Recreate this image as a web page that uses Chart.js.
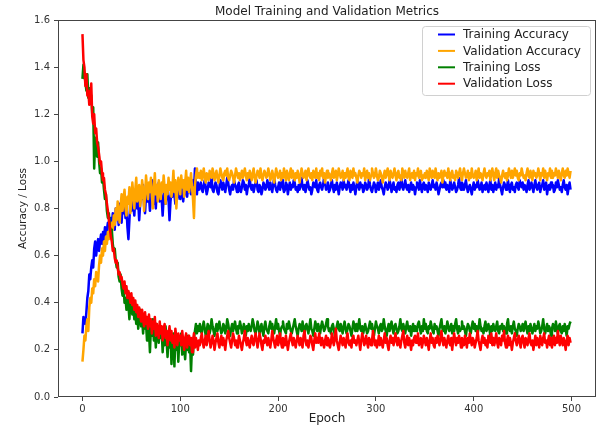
<!DOCTYPE html>
<html>
<head>
<meta charset="utf-8">
<script src="https://cdn.jsdelivr.net/npm/chart.js@4.4.1/dist/chart.umd.min.js"></script>
<style>
  html, body { margin: 0; padding: 0; background: #fff; }
  canvas { display: block; }
</style>
</head>
<body>
<canvas id="chart" width="599" height="429"></canvas>
<script>
// values, one per epoch (0..499), ten per row
const trainAcc = [
  0.27, 0.34, 0.33, 0.31, 0.36, 0.42, 0.45, 0.52, 0.50, 0.55,
  0.58, 0.55, 0.63, 0.66, 0.60, 0.64, 0.67, 0.62, 0.66, 0.69,
  0.65, 0.70, 0.67, 0.72, 0.69, 0.71, 0.74, 0.70, 0.73, 0.76,
  0.72, 0.78, 0.74, 0.71, 0.80, 0.76, 0.79, 0.73, 0.82, 0.77,
  0.74, 0.81, 0.78, 0.84, 0.76, 0.80, 0.72, 0.67, 0.75, 0.83,
  0.79, 0.86, 0.81, 0.77, 0.84, 0.88, 0.80, 0.83, 0.75, 0.82,
  0.87, 0.84, 0.90, 0.81, 0.78, 0.86, 0.83, 0.89, 0.85, 0.79,
  0.84, 0.92, 0.87, 0.82, 0.86, 0.80, 0.88, 0.85, 0.91, 0.83,
  0.87, 0.84, 0.77, 0.85, 0.89, 0.82, 0.86, 0.90, 0.84, 0.75,
  0.83, 0.87, 0.85, 0.91, 0.86, 0.82, 0.88, 0.84, 0.90, 0.86,
  0.84, 0.89, 0.87, 0.83, 0.88, 0.91, 0.86, 0.85, 0.89, 0.87,
  0.90, 0.86, 0.88, 0.92, 0.87, 0.97, 0.89, 0.86, 0.91, 0.88,
  0.89, 0.91, 0.88, 0.87, 0.90, 0.92, 0.89, 0.86, 0.88, 0.91,
  0.90, 0.89, 0.93, 0.88, 0.87, 0.89, 0.91, 0.90, 0.87, 0.86,
  0.89, 0.92, 0.90, 0.88, 0.91, 0.89, 0.87, 0.90, 0.93, 0.91,
  0.88, 0.86, 0.89, 0.90, 0.88, 0.92, 0.90, 0.89, 0.87, 0.90,
  0.91, 0.88, 0.87, 0.89, 0.92, 0.91, 0.88, 0.90, 0.86, 0.89,
  0.90, 0.93, 0.89, 0.88, 0.90, 0.87, 0.89, 0.91, 0.92, 0.88,
  0.87, 0.90, 0.89, 0.86, 0.88, 0.91, 0.90, 0.88, 0.89, 0.92,
  0.90, 0.88, 0.91, 0.89, 0.87, 0.90, 0.93, 0.90, 0.88, 0.87,
  0.89, 0.91, 0.88, 0.90, 0.92, 0.89, 0.87, 0.88, 0.91, 0.90,
  0.86, 0.89, 0.91, 0.88, 0.90, 0.89, 0.92, 0.91, 0.88, 0.89,
  0.87, 0.90, 0.88, 0.91, 0.93, 0.89, 0.88, 0.90, 0.87, 0.89,
  0.92, 0.90, 0.88, 0.89, 0.86, 0.88, 0.91, 0.90, 0.89, 0.92,
  0.88, 0.87, 0.90, 0.91, 0.89, 0.88, 0.90, 0.93, 0.91, 0.88,
  0.89, 0.91, 0.87, 0.88, 0.90, 0.92, 0.89, 0.87, 0.90, 0.88,
  0.91, 0.89, 0.86, 0.89, 0.91, 0.90, 0.88, 0.92, 0.89, 0.90,
  0.88, 0.90, 0.92, 0.89, 0.87, 0.90, 0.88, 0.91, 0.89, 0.86,
  0.89, 0.92, 0.90, 0.88, 0.91, 0.89, 0.90, 0.87, 0.88, 0.91,
  0.90, 0.88, 0.89, 0.93, 0.90, 0.88, 0.87, 0.89, 0.91, 0.90,
  0.87, 0.89, 0.91, 0.88, 0.90, 0.92, 0.89, 0.88, 0.86, 0.89,
  0.91, 0.90, 0.88, 0.89, 0.92, 0.90, 0.87, 0.89, 0.91, 0.88,
  0.89, 0.87, 0.90, 0.91, 0.88, 0.90, 0.93, 0.89, 0.88, 0.90,
  0.92, 0.89, 0.88, 0.90, 0.87, 0.89, 0.91, 0.88, 0.90, 0.89,
  0.86, 0.89, 0.91, 0.90, 0.88, 0.92, 0.89, 0.87, 0.90, 0.91,
  0.88, 0.90, 0.89, 0.87, 0.91, 0.89, 0.88, 0.90, 0.92, 0.89,
  0.90, 0.88, 0.91, 0.89, 0.86, 0.88, 0.90, 0.91, 0.89, 0.92,
  0.89, 0.91, 0.88, 0.90, 0.89, 0.87, 0.92, 0.90, 0.88, 0.89,
  0.91, 0.89, 0.87, 0.88, 0.90, 0.93, 0.89, 0.88, 0.91, 0.90,
  0.88, 0.90, 0.92, 0.89, 0.87, 0.89, 0.90, 0.88, 0.86, 0.89,
  0.91, 0.88, 0.90, 0.89, 0.92, 0.90, 0.88, 0.89, 0.91, 0.87,
  0.89, 0.90, 0.88, 0.91, 0.89, 0.87, 0.90, 0.92, 0.88, 0.90,
  0.87, 0.89, 0.91, 0.88, 0.90, 0.89, 0.93, 0.90, 0.88, 0.86,
  0.89, 0.91, 0.90, 0.88, 0.89, 0.92, 0.89, 0.87, 0.90, 0.91,
  0.88, 0.89, 0.87, 0.90, 0.91, 0.89, 0.88, 0.92, 0.90, 0.89,
  0.91, 0.88, 0.90, 0.89, 0.87, 0.90, 0.92, 0.88, 0.89, 0.91,
  0.89, 0.87, 0.90, 0.92, 0.89, 0.88, 0.90, 0.91, 0.87, 0.89,
  0.90, 0.92, 0.88, 0.89, 0.91, 0.86, 0.89, 0.90, 0.88, 0.91,
  0.89, 0.90, 0.87, 0.88, 0.91, 0.89, 0.92, 0.90, 0.88, 0.89,
  0.87, 0.90, 0.92, 0.89, 0.88, 0.90, 0.86, 0.89, 0.91, 0.88
];

const valAcc = [
  0.15, 0.20, 0.26, 0.24, 0.30, 0.33, 0.28, 0.38, 0.42, 0.40,
  0.46, 0.44, 0.50, 0.47, 0.53, 0.51, 0.49, 0.56, 0.60, 0.57,
  0.63, 0.60, 0.66, 0.62, 0.68, 0.65, 0.70, 0.67, 0.72, 0.69,
  0.74, 0.71, 0.77, 0.73, 0.80, 0.75, 0.83, 0.78, 0.74, 0.81,
  0.86, 0.79, 0.84, 0.88, 0.80, 0.77, 0.85, 0.82, 0.89, 0.78,
  0.84, 0.91, 0.86, 0.80, 0.88, 0.93, 0.83, 0.87, 0.90, 0.81,
  0.85, 0.92, 0.88, 0.79, 0.86, 0.94, 0.89, 0.84, 0.91, 0.87,
  0.93, 0.85, 0.80, 0.89, 0.95, 0.86, 0.90, 0.83, 0.92, 0.88,
  0.84, 0.91, 0.87, 0.94, 0.89, 0.82, 0.90, 0.86, 0.93, 0.88,
  0.91, 0.85, 0.89, 0.96, 0.87, 0.92, 0.80, 0.88, 0.93, 0.90,
  0.86, 0.94, 0.89, 0.92, 0.85, 0.91, 0.96, 0.88, 0.93, 0.87,
  0.91, 0.95, 0.89, 0.84, 0.76, 0.90, 0.94, 0.97, 0.93, 0.95,
  0.93, 0.96, 0.92, 0.94, 0.97, 0.93, 0.91, 0.95, 0.94, 0.92,
  0.96, 0.94, 0.93, 0.97, 0.95, 0.92, 0.94, 0.96, 0.93, 0.91,
  0.94, 0.97, 0.95, 0.93, 0.92, 0.95, 0.96, 0.94, 0.97, 0.93,
  0.92, 0.94, 0.96, 0.95, 0.93, 0.91, 0.94, 0.97, 0.95, 0.93,
  0.95, 0.92, 0.94, 0.96, 0.93, 0.95, 0.97, 0.94, 0.92, 0.95,
  0.93, 0.96, 0.94, 0.92, 0.95, 0.97, 0.93, 0.91, 0.94, 0.96,
  0.95, 0.93, 0.97, 0.94, 0.92, 0.94, 0.96, 0.95, 0.93, 0.94,
  0.97, 0.95, 0.92, 0.93, 0.96, 0.94, 0.91, 0.94, 0.97, 0.95,
  0.93, 0.94, 0.96, 0.92, 0.95, 0.93, 0.97, 0.94, 0.92, 0.96,
  0.94, 0.92, 0.95, 0.97, 0.93, 0.96, 0.94, 0.92, 0.95, 0.93,
  0.96, 0.94, 0.91, 0.94, 0.97, 0.95, 0.93, 0.94, 0.96, 0.92,
  0.95, 0.97, 0.94, 0.93, 0.95, 0.92, 0.96, 0.94, 0.93, 0.97,
  0.93, 0.95, 0.92, 0.96, 0.94, 0.97, 0.93, 0.95, 0.91, 0.94,
  0.96, 0.93, 0.95, 0.94, 0.92, 0.95, 0.97, 0.93, 0.94, 0.96,
  0.92, 0.94, 0.97, 0.95, 0.93, 0.94, 0.96, 0.92, 0.95, 0.93,
  0.95, 0.97, 0.93, 0.92, 0.96, 0.94, 0.93, 0.97, 0.94, 0.95,
  0.93, 0.91, 0.94, 0.96, 0.95, 0.93, 0.95, 0.94, 0.97, 0.92,
  0.94, 0.96, 0.93, 0.95, 0.92, 0.94, 0.97, 0.95, 0.93, 0.94,
  0.97, 0.94, 0.92, 0.93, 0.96, 0.95, 0.93, 0.91, 0.94, 0.96,
  0.93, 0.95, 0.97, 0.94, 0.92, 0.96, 0.94, 0.93, 0.95, 0.97,
  0.94, 0.92, 0.95, 0.96, 0.93, 0.94, 0.92, 0.97, 0.95, 0.93,
  0.96, 0.94, 0.93, 0.95, 0.97, 0.92, 0.94, 0.95, 0.93, 0.96,
  0.92, 0.95, 0.94, 0.97, 0.93, 0.95, 0.96, 0.92, 0.94, 0.93,
  0.95, 0.93, 0.96, 0.94, 0.92, 0.97, 0.95, 0.93, 0.96, 0.94,
  0.93, 0.97, 0.94, 0.92, 0.95, 0.93, 0.94, 0.96, 0.91, 0.94,
  0.96, 0.94, 0.95, 0.93, 0.97, 0.94, 0.92, 0.95, 0.96, 0.93,
  0.94, 0.92, 0.96, 0.95, 0.93, 0.95, 0.97, 0.94, 0.92, 0.95,
  0.97, 0.95, 0.93, 0.94, 0.96, 0.92, 0.95, 0.93, 0.97, 0.94,
  0.93, 0.94, 0.96, 0.92, 0.94, 0.97, 0.93, 0.95, 0.94, 0.92,
  0.95, 0.97, 0.94, 0.93, 0.95, 0.94, 0.96, 0.92, 0.95, 0.97,
  0.94, 0.92, 0.95, 0.97, 0.93, 0.96, 0.94, 0.93, 0.91, 0.94,
  0.96, 0.94, 0.93, 0.95, 0.92, 0.94, 0.97, 0.95, 0.93, 0.96,
  0.93, 0.95, 0.97, 0.94, 0.96, 0.93, 0.92, 0.95, 0.94, 0.97,
  0.95, 0.93, 0.94, 0.92, 0.95, 0.97, 0.94, 0.93, 0.96, 0.94,
  0.92, 0.96, 0.94, 0.95, 0.93, 0.94, 0.97, 0.95, 0.92, 0.95,
  0.94, 0.97, 0.93, 0.96, 0.94, 0.92, 0.95, 0.94, 0.97, 0.93,
  0.96, 0.93, 0.95, 0.94, 0.97, 0.95, 0.93, 0.96, 0.94, 0.92,
  0.95, 0.97, 0.94, 0.93, 0.96, 0.94, 0.97, 0.95, 0.93, 0.96
];

const trainLoss = [
  1.35, 1.41, 1.36, 1.34, 1.30, 1.37, 1.27, 1.31, 1.25, 1.28,
  1.20, 1.23, 0.97, 1.10, 1.05, 1.02, 1.08, 1.00, 0.95, 0.97,
  0.91, 0.93, 0.88, 0.84, 0.86, 0.79, 0.76, 0.78, 0.72, 0.70,
  0.71, 0.65, 0.62, 0.63, 0.58, 0.55, 0.57, 0.51, 0.49, 0.52,
  0.46, 0.43, 0.47, 0.40, 0.42, 0.37, 0.45, 0.39, 0.33, 0.41,
  0.38, 0.35, 0.40, 0.33, 0.36, 0.31, 0.38, 0.29, 0.34, 0.37,
  0.30, 0.33, 0.27, 0.35, 0.29, 0.31, 0.24, 0.32, 0.28, 0.19,
  0.30, 0.26, 0.33, 0.24, 0.29, 0.21, 0.31, 0.27, 0.23, 0.30,
  0.25, 0.28, 0.19, 0.27, 0.22, 0.30, 0.24, 0.17, 0.26, 0.21,
  0.28, 0.14, 0.23, 0.27, 0.13, 0.25, 0.20, 0.26, 0.15, 0.24,
  0.22, 0.27, 0.18, 0.25, 0.21, 0.16, 0.24, 0.20, 0.26, 0.19,
  0.23, 0.11, 0.22, 0.18, 0.25, 0.28, 0.31, 0.27, 0.30, 0.28,
  0.31, 0.28, 0.27, 0.30, 0.32, 0.29, 0.26, 0.28, 0.31, 0.30,
  0.27, 0.29, 0.33, 0.30, 0.28, 0.26, 0.29, 0.31, 0.28, 0.30,
  0.32, 0.29, 0.27, 0.28, 0.31, 0.30, 0.27, 0.29, 0.33, 0.31,
  0.28, 0.26, 0.29, 0.31, 0.28, 0.30, 0.32, 0.29, 0.27, 0.30,
  0.29, 0.32, 0.30, 0.27, 0.28, 0.31, 0.29, 0.26, 0.30, 0.28,
  0.31, 0.29, 0.28, 0.30, 0.33, 0.31, 0.28, 0.27, 0.29, 0.32,
  0.30, 0.27, 0.29, 0.31, 0.28, 0.26, 0.30, 0.32, 0.29, 0.28,
  0.27, 0.30, 0.32, 0.29, 0.31, 0.28, 0.27, 0.30, 0.33, 0.29,
  0.31, 0.28, 0.26, 0.29, 0.30, 0.32, 0.29, 0.28, 0.27, 0.31,
  0.29, 0.32, 0.30, 0.28, 0.27, 0.29, 0.31, 0.33, 0.30, 0.28,
  0.26, 0.29, 0.31, 0.30, 0.28, 0.32, 0.29, 0.27, 0.30, 0.31,
  0.29, 0.27, 0.30, 0.33, 0.29, 0.28, 0.26, 0.29, 0.32, 0.30,
  0.28, 0.31, 0.29, 0.27, 0.30, 0.32, 0.30, 0.28, 0.29, 0.31,
  0.33, 0.30, 0.28, 0.29, 0.27, 0.30, 0.31, 0.29, 0.26, 0.28,
  0.30, 0.32, 0.29, 0.28, 0.31, 0.29, 0.27, 0.30, 0.32, 0.29,
  0.27, 0.29, 0.31, 0.30, 0.28, 0.26, 0.29, 0.32, 0.30, 0.28,
  0.31, 0.28, 0.30, 0.33, 0.29, 0.28, 0.30, 0.27, 0.29, 0.31,
  0.29, 0.27, 0.28, 0.30, 0.32, 0.29, 0.31, 0.28, 0.26, 0.29,
  0.32, 0.30, 0.29, 0.27, 0.30, 0.31, 0.28, 0.29, 0.33, 0.30,
  0.28, 0.26, 0.29, 0.31, 0.28, 0.30, 0.32, 0.29, 0.27, 0.30,
  0.31, 0.29, 0.27, 0.28, 0.30, 0.33, 0.29, 0.28, 0.31, 0.29,
  0.27, 0.30, 0.32, 0.29, 0.28, 0.30, 0.26, 0.29, 0.31, 0.28,
  0.30, 0.28, 0.29, 0.31, 0.32, 0.29, 0.27, 0.30, 0.28, 0.33,
  0.29, 0.31, 0.28, 0.27, 0.30, 0.29, 0.32, 0.30, 0.28, 0.27,
  0.31, 0.29, 0.30, 0.28, 0.26, 0.29, 0.31, 0.33, 0.29, 0.28,
  0.30, 0.27, 0.29, 0.32, 0.30, 0.28, 0.29, 0.31, 0.27, 0.30,
  0.28, 0.31, 0.33, 0.29, 0.27, 0.30, 0.28, 0.29, 0.32, 0.29,
  0.30, 0.28, 0.26, 0.29, 0.31, 0.30, 0.28, 0.27, 0.30, 0.32,
  0.29, 0.31, 0.28, 0.30, 0.27, 0.29, 0.33, 0.30, 0.28, 0.29,
  0.27, 0.30, 0.32, 0.28, 0.29, 0.31, 0.29, 0.26, 0.30, 0.28,
  0.31, 0.29, 0.28, 0.30, 0.32, 0.28, 0.27, 0.30, 0.29, 0.31,
  0.28, 0.30, 0.29, 0.27, 0.31, 0.33, 0.29, 0.28, 0.30, 0.27,
  0.30, 0.32, 0.29, 0.28, 0.26, 0.29, 0.31, 0.30, 0.28, 0.29,
  0.31, 0.28, 0.30, 0.32, 0.29, 0.27, 0.30, 0.28, 0.31, 0.29,
  0.27, 0.29, 0.31, 0.28, 0.30, 0.29, 0.32, 0.30, 0.27, 0.28,
  0.30, 0.33, 0.29, 0.27, 0.29, 0.31, 0.28, 0.30, 0.29, 0.26,
  0.29, 0.31, 0.30, 0.28, 0.32, 0.29, 0.27, 0.30, 0.31, 0.28,
  0.27, 0.30, 0.28, 0.31, 0.29, 0.26, 0.30, 0.29, 0.31, 0.32
];

const valLoss = [
  1.54, 1.43, 1.40, 1.32, 1.37, 1.28, 1.30, 1.24, 1.27, 1.33,
  1.19, 1.16, 1.20, 1.12, 1.14, 1.08, 1.06, 1.03, 0.99, 1.00,
  0.95, 0.92, 0.93, 0.88, 0.86, 0.82, 0.79, 0.75, 0.72, 0.68,
  0.66, 0.62, 0.63, 0.59, 0.57, 0.58, 0.55, 0.52, 0.53, 0.50,
  0.51, 0.48, 0.46, 0.49, 0.44, 0.47, 0.42, 0.45, 0.43, 0.40,
  0.44, 0.39, 0.42, 0.37, 0.41, 0.36, 0.39, 0.34, 0.38, 0.35,
  0.32, 0.37, 0.33, 0.30, 0.36, 0.31, 0.34, 0.29, 0.35, 0.30,
  0.33, 0.27, 0.32, 0.29, 0.34, 0.26, 0.31, 0.28, 0.25, 0.32,
  0.27, 0.30, 0.24, 0.29, 0.31, 0.25, 0.28, 0.22, 0.27, 0.30,
  0.24, 0.28, 0.23, 0.26, 0.21, 0.29, 0.25, 0.22, 0.27, 0.24,
  0.26, 0.22, 0.28, 0.24, 0.20, 0.25, 0.27, 0.21, 0.24, 0.26,
  0.22, 0.25, 0.19, 0.24, 0.27, 0.21, 0.25, 0.23, 0.20, 0.24,
  0.22, 0.25, 0.27, 0.23, 0.21, 0.24, 0.26, 0.22, 0.25, 0.28,
  0.24, 0.21, 0.23, 0.26, 0.24, 0.20, 0.23, 0.25, 0.27, 0.23,
  0.21, 0.24, 0.26, 0.22, 0.25, 0.23, 0.20, 0.24, 0.26, 0.28,
  0.25, 0.23, 0.21, 0.24, 0.27, 0.25, 0.22, 0.24, 0.21, 0.23,
  0.26, 0.24, 0.22, 0.20, 0.23, 0.25, 0.28, 0.24, 0.22, 0.25,
  0.23, 0.21, 0.24, 0.26, 0.23, 0.22, 0.25, 0.27, 0.24, 0.21,
  0.24, 0.27, 0.25, 0.22, 0.20, 0.24, 0.23, 0.26, 0.24, 0.22,
  0.25, 0.23, 0.21, 0.24, 0.28, 0.25, 0.23, 0.21, 0.24, 0.26,
  0.22, 0.24, 0.27, 0.23, 0.21, 0.25, 0.24, 0.22, 0.26, 0.23,
  0.20, 0.23, 0.25, 0.27, 0.24, 0.22, 0.25, 0.23, 0.21, 0.24,
  0.26, 0.24, 0.22, 0.25, 0.23, 0.21, 0.26, 0.28, 0.24, 0.22,
  0.24, 0.21, 0.23, 0.26, 0.25, 0.22, 0.20, 0.24, 0.27, 0.23,
  0.25, 0.23, 0.27, 0.24, 0.22, 0.25, 0.23, 0.21, 0.24, 0.26,
  0.22, 0.25, 0.24, 0.21, 0.23, 0.27, 0.24, 0.22, 0.25, 0.29,
  0.24, 0.22, 0.20, 0.23, 0.26, 0.24, 0.22, 0.25, 0.23, 0.21,
  0.25, 0.27, 0.23, 0.22, 0.24, 0.21, 0.25, 0.26, 0.23, 0.24,
  0.22, 0.24, 0.26, 0.23, 0.20, 0.24, 0.27, 0.25, 0.22, 0.23,
  0.26, 0.23, 0.21, 0.25, 0.24, 0.22, 0.24, 0.28, 0.25, 0.22,
  0.24, 0.21, 0.23, 0.26, 0.22, 0.25, 0.23, 0.21, 0.24, 0.27,
  0.23, 0.25, 0.22, 0.20, 0.24, 0.26, 0.23, 0.25, 0.22, 0.24,
  0.27, 0.24, 0.22, 0.25, 0.23, 0.21, 0.24, 0.26, 0.28, 0.23,
  0.21, 0.24, 0.26, 0.22, 0.25, 0.23, 0.20, 0.24, 0.22, 0.25,
  0.26, 0.23, 0.24, 0.27, 0.22, 0.24, 0.25, 0.21, 0.23, 0.26,
  0.24, 0.22, 0.25, 0.23, 0.20, 0.24, 0.27, 0.23, 0.25, 0.22,
  0.21, 0.25, 0.23, 0.26, 0.24, 0.22, 0.25, 0.28, 0.24, 0.22,
  0.25, 0.23, 0.21, 0.24, 0.26, 0.23, 0.22, 0.25, 0.20, 0.24,
  0.27, 0.24, 0.22, 0.25, 0.23, 0.26, 0.24, 0.21, 0.25, 0.23,
  0.22, 0.26, 0.24, 0.21, 0.25, 0.23, 0.27, 0.24, 0.22, 0.25,
  0.24, 0.21, 0.23, 0.25, 0.28, 0.24, 0.22, 0.20, 0.24, 0.26,
  0.23, 0.25, 0.22, 0.24, 0.21, 0.26, 0.24, 0.23, 0.27, 0.22,
  0.25, 0.22, 0.24, 0.27, 0.23, 0.21, 0.25, 0.24, 0.22, 0.26,
  0.24, 0.28, 0.23, 0.21, 0.24, 0.26, 0.22, 0.25, 0.23, 0.20,
  0.23, 0.25, 0.27, 0.24, 0.22, 0.24, 0.26, 0.23, 0.21, 0.25,
  0.26, 0.23, 0.21, 0.25, 0.24, 0.22, 0.25, 0.27, 0.23, 0.22,
  0.24, 0.20, 0.23, 0.26, 0.22, 0.25, 0.23, 0.21, 0.26, 0.24,
  0.22, 0.25, 0.27, 0.23, 0.24, 0.21, 0.24, 0.26, 0.22, 0.25,
  0.21, 0.24, 0.26, 0.22, 0.25, 0.23, 0.28, 0.24, 0.22, 0.26,
  0.24, 0.22, 0.25, 0.23, 0.20, 0.24, 0.26, 0.22, 0.25, 0.23
];

const epochs = trainAcc.map((_, i) => i);
const xTicks = [0, 100, 200, 300, 400, 500];
const yTicks = [0, 0.2, 0.4, 0.6, 0.8, 1.0, 1.2, 1.4, 1.6];

const seriesNames = ["Training Accuracy", "Validation Accuracy", "Training Loss", "Validation Loss"];
const seriesColors = ["#0000ff", "#ffa500", "#008000", "#ff0000"];
const seriesValues = [trainAcc, valAcc, trainLoss, valLoss];

const FONT = "'DejaVu Sans', sans-serif";
const AXIS = "#444";

const toPoints = (vals) => vals.map((v, i) => ({ x: epochs[i], y: v }));

// matplotlib-like title, frame and legend box
const decor = {
  id: "decor",
  afterDatasetsDraw(chart) {
    const { ctx, chartArea: a } = chart;
    ctx.save();
    ctx.strokeStyle = AXIS;
    ctx.lineWidth = 1;
    ctx.strokeRect(a.left + 0.5, a.top + 0.5, a.right - a.left - 1, a.bottom - a.top - 1);
    ctx.restore();
  },
  afterDraw(chart) {
    const { ctx, chartArea: a } = chart;
    ctx.save();
    ctx.fillStyle = "#222";
    ctx.font = "12px " + FONT;
    ctx.textAlign = "center";
    ctx.textBaseline = "middle";
    ctx.fillText("Model Training and Validation Metrics", (a.left + a.right) / 2, 12);

    // legend
    const bx = 422, by = 26, bw = 168, bh = 69;
    ctx.fillStyle = "rgba(255,255,255,0.85)";
    ctx.strokeStyle = "#d0d0d0";
    ctx.lineWidth = 1;
    ctx.beginPath();
    ctx.roundRect(bx + 0.5, by + 0.5, bw, bh, 3);
    ctx.fill();
    ctx.stroke();
    ctx.font = "12px " + FONT;
    ctx.textAlign = "left";
    seriesNames.forEach((name, i) => {
      const y = 34.5 + i * 16.4;
      ctx.strokeStyle = seriesColors[i];
      ctx.lineWidth = 2;
      ctx.beginPath();
      ctx.moveTo(438, y);
      ctx.lineTo(455, y);
      ctx.stroke();
      ctx.fillStyle = "#222";
      ctx.fillText(name, 463, y + 0.5);
    });
    ctx.restore();
  }
};

new Chart(document.getElementById("chart"), {
  type: "line",
  data: {
    datasets: seriesNames.map((name, i) => ({
      label: name,
      data: toPoints(seriesValues[i]),
      borderColor: seriesColors[i],
      backgroundColor: seriesColors[i],
      borderWidth: 2.5,
      borderJoinStyle: "round",
      pointRadius: 0,
      tension: 0,
      fill: false,
      order: 3 - i
    }))
  },
  options: {
    responsive: false,
    animation: false,
    events: [],
    layout: { padding: { top: 20, right: 3, left: 0, bottom: 0 } },
    plugins: {
      legend: { display: false },
      title: { display: false },
      tooltip: { enabled: false }
    },
    scales: {
      x: {
        type: "linear",
        min: -25,
        max: 525,
        afterBuildTicks: (s) => { s.ticks = xTicks.map((v) => ({ value: v })); },
        afterFit: (s) => { s.height = 32; },
        grid: { drawOnChartArea: false, drawTicks: true, tickLength: 4, color: AXIS },
        border: { display: false },
        ticks: { color: "#333", padding: 2, maxRotation: 0, font: { family: FONT, size: 10 } },
        title: { display: true, text: "Epoch", color: "#222", padding: { top: 0, bottom: 3 }, font: { family: FONT, size: 12 } }
      },
      y: {
        min: 0,
        max: 1.6,
        afterBuildTicks: (s) => { s.ticks = yTicks.map((v) => ({ value: v })); },
        afterFit: (s) => { s.width = 58; },
        grid: { drawOnChartArea: false, drawTicks: true, tickLength: 4, color: AXIS },
        border: { display: false },
        ticks: { color: "#333", padding: 4, font: { family: FONT, size: 10 }, callback: (v) => v.toFixed(1) },
        title: { display: true, text: "Accuracy / Loss", color: "#222", padding: { top: 17, bottom: 0 }, font: { family: FONT, size: 10.5 } }
      }
    }
  },
  plugins: [decor]
});
</script>
</body>
</html>
